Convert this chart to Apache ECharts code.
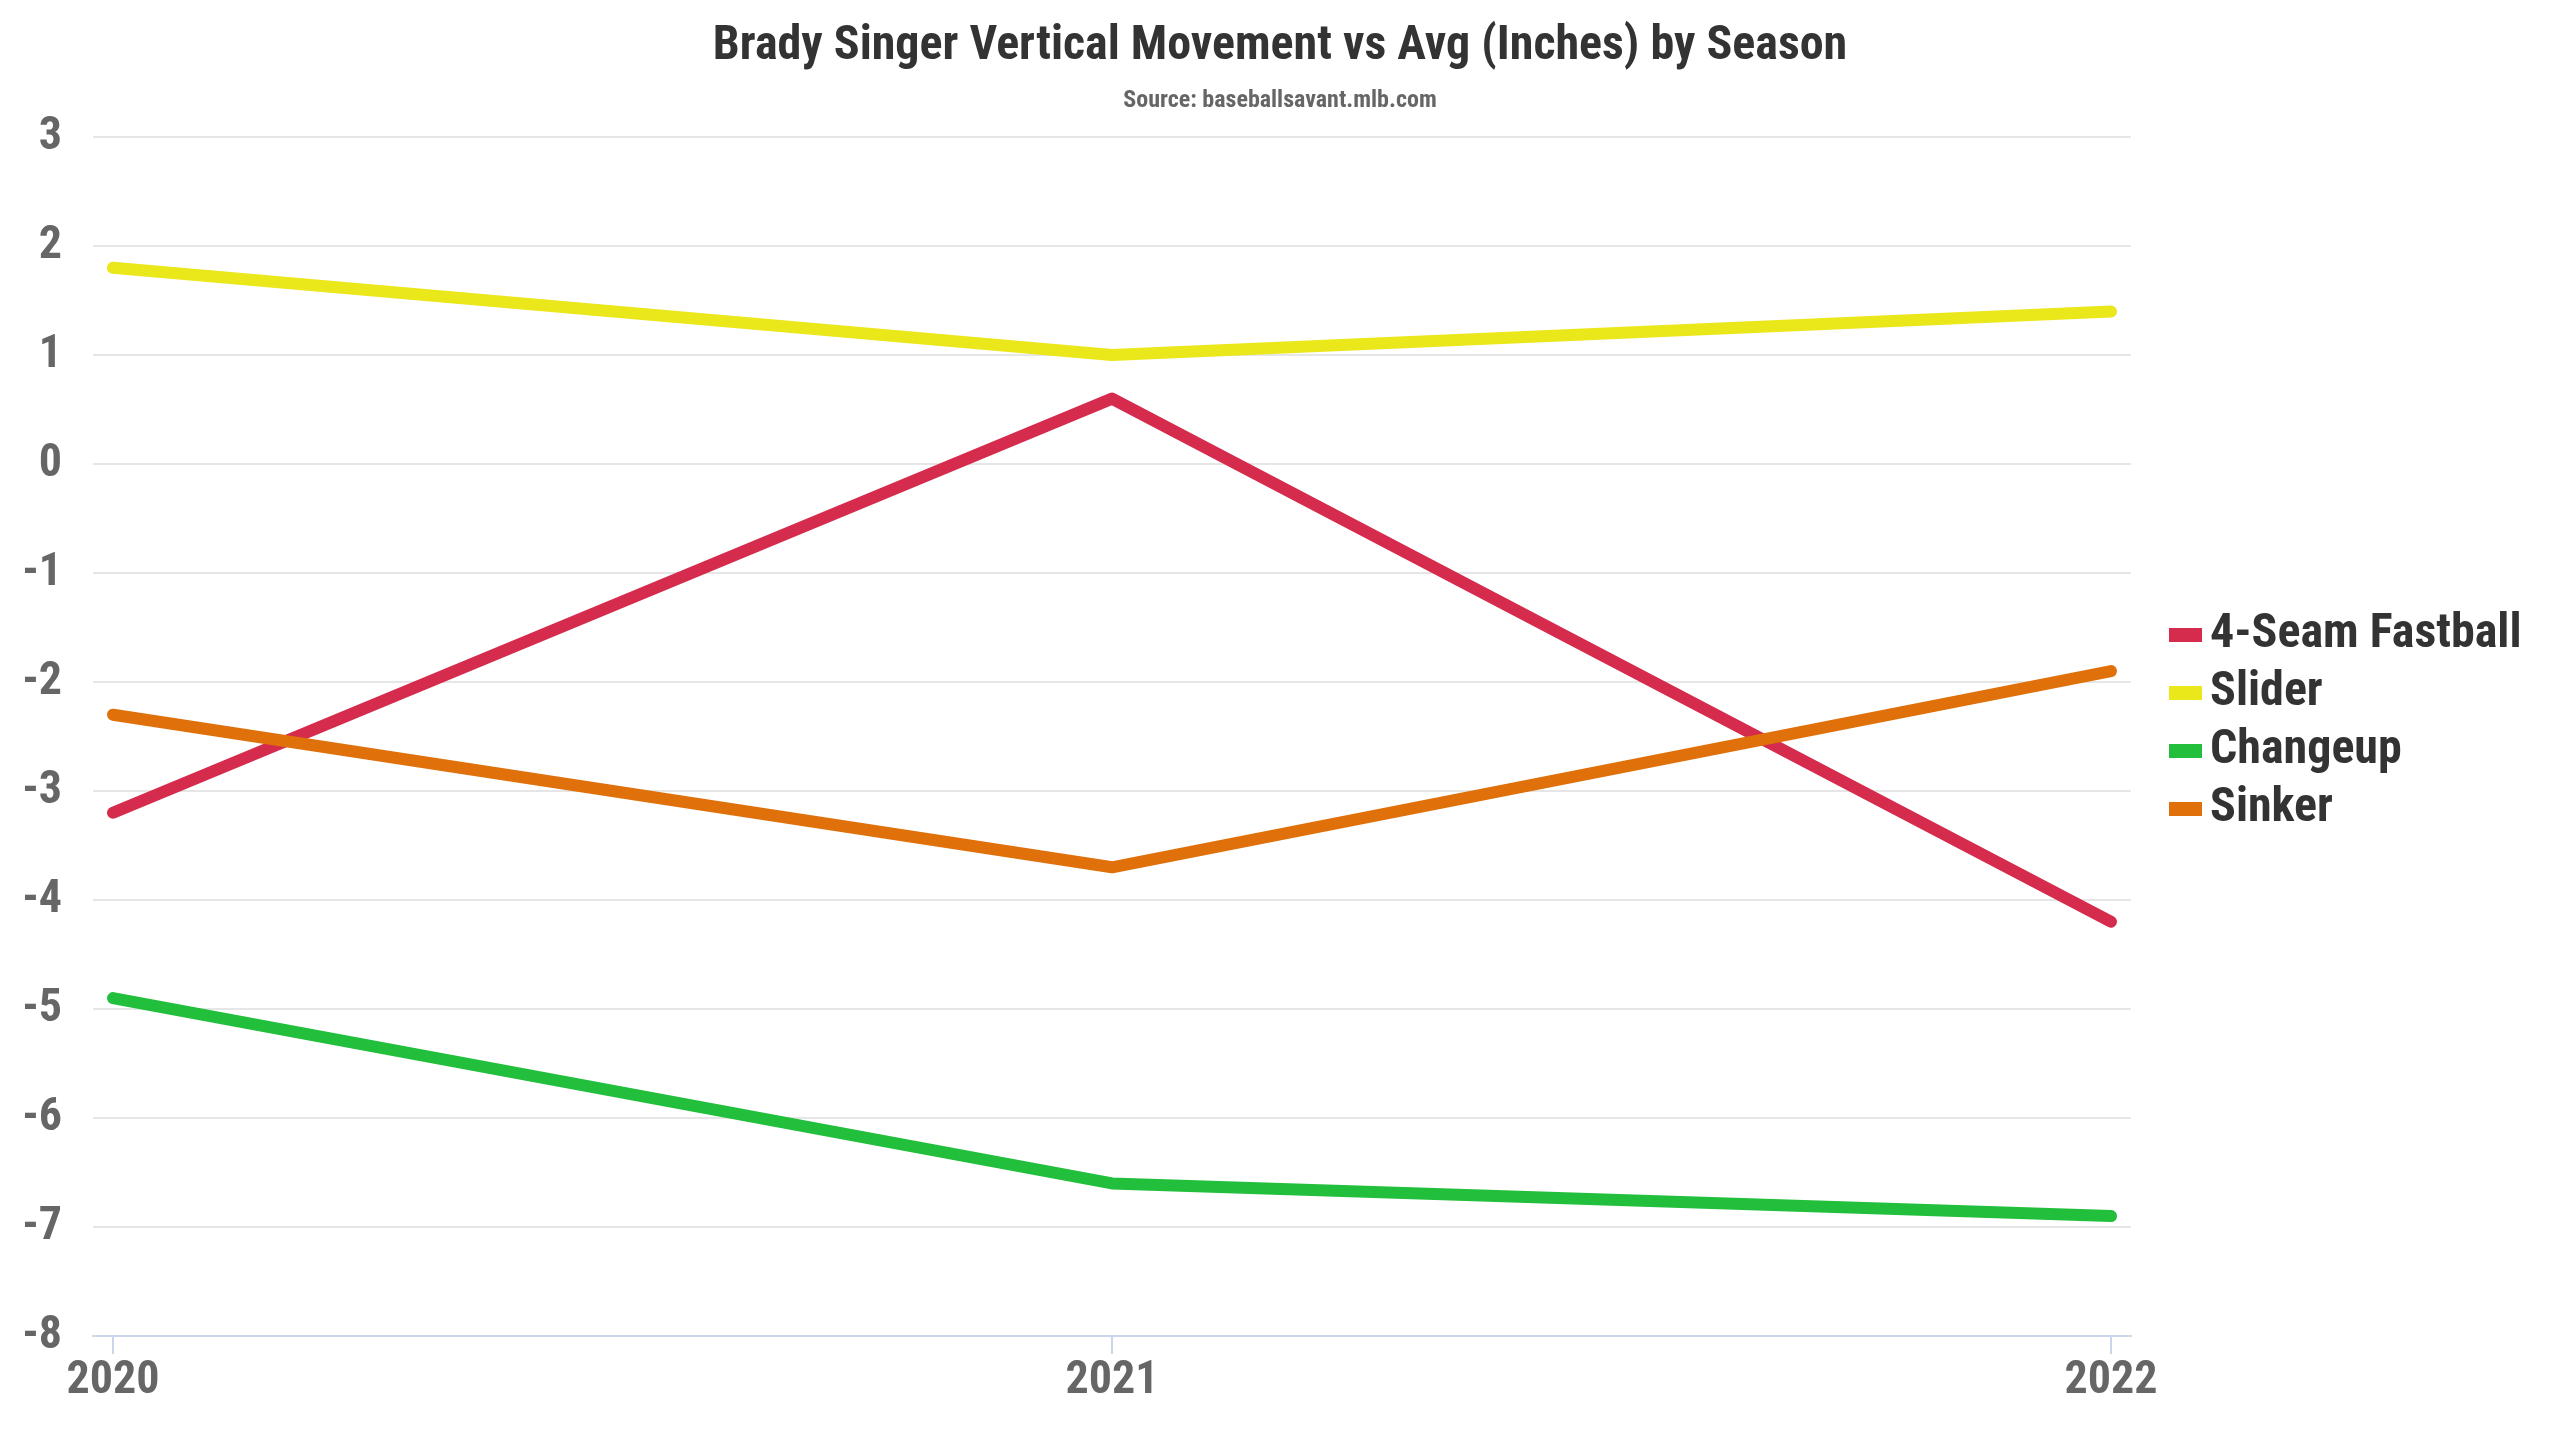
<!DOCTYPE html>
<html>
<head>
<meta charset="utf-8">
<script src="https://cdn.jsdelivr.net/npm/echarts@6/dist/echarts.min.js"></script>
<style>
html,body{margin:0;padding:0;background:#fff;}
#chart{width:2560px;height:1440px;}
</style>
</head>
<body>
<div id="chart"></div>
<script>
const seasons = [2020, 2021, 2022];
const fastball = [-3.2, 0.6, -4.2];
const slider = [1.8, 1.0, 1.4];
const changeup = [-4.9, -6.6, -6.9];
const sinker = [-2.3, -3.7, -1.9];
const seriesNames = ['4-Seam Fastball', 'Slider', 'Changeup', 'Sinker'];
const seriesColors = ['#d52b4c', '#eae71a', '#21bf3b', '#e0700a'];

const FONT = '"Roboto Condensed","Liberation Sans Narrow","DejaVu Sans Condensed",Roboto,sans-serif';
const chart = echarts.init(document.getElementById('chart'));
const allValues = [fastball, slider, changeup, sinker];

const series = allValues.map((vals, i) => ({
  name: seriesNames[i],
  type: 'line',
  data: seasons.map((s, j) => [s, vals[j]]),
  symbol: 'none',
  lineStyle: { width: 12, color: seriesColors[i], cap: 'round', join: 'round' },
  itemStyle: { color: seriesColors[i] },
  emphasis: { disabled: true }
}));

chart.setOption({
  animation: false,
  backgroundColor: '#ffffff',
  title: {
    text: 'Brady Singer Vertical Movement vs Avg (Inches) by Season',
    subtext: 'Source: baseballsavant.mlb.com',
    left: 'center',
    top: 18,
    itemGap: 18,
    textStyle: { fontFamily: FONT, fontWeight: 'bold', fontSize: 48, color: '#333333' },
    subtextStyle: { fontFamily: FONT, fontWeight: 'bold', fontSize: 24, color: '#666666' }
  },
  legend: {
    orient: 'vertical',
    left: 2164,
    top: 606,
    itemWidth: 33,
    itemHeight: 14,
    itemGap: 10,
    icon: 'rect',
    data: seriesNames,
    textStyle: { fontFamily: FONT, fontWeight: 'bold', fontSize: 48, color: '#333333', lineHeight: 48, padding: [0,0,0,3] }
  },
  grid: { left: 93, right: 429, top: 137, bottom: 104, containLabel: false },
  xAxis: {
    type: 'value',
    min: 2019.98,
    max: 2022.02,
    axisLine: { show: true, onZero: false, lineStyle: { color: '#ccd6eb', width: 2 } },
    axisTick: { show: true, customValues: seasons, length: 18, lineStyle: { color: '#ccd6eb', width: 2 } },
    axisLabel: { customValues: seasons, margin: 22, fontFamily: FONT, fontWeight: 'bold', fontSize: 46, color: '#666666', formatter: v => String(Math.round(v)) },
    splitLine: { show: false }
  },
  yAxis: {
    type: 'value',
    min: -8,
    max: 3,
    interval: 1,
    axisLine: { show: false },
    axisTick: { show: false },
    axisLabel: { margin: 31, fontFamily: FONT, fontWeight: 'bold', fontSize: 46, color: '#666666' },
    splitLine: { lineStyle: { color: '#e6e6e6', width: 2 } }
  },
  series: series
});
</script>
</body>
</html>
